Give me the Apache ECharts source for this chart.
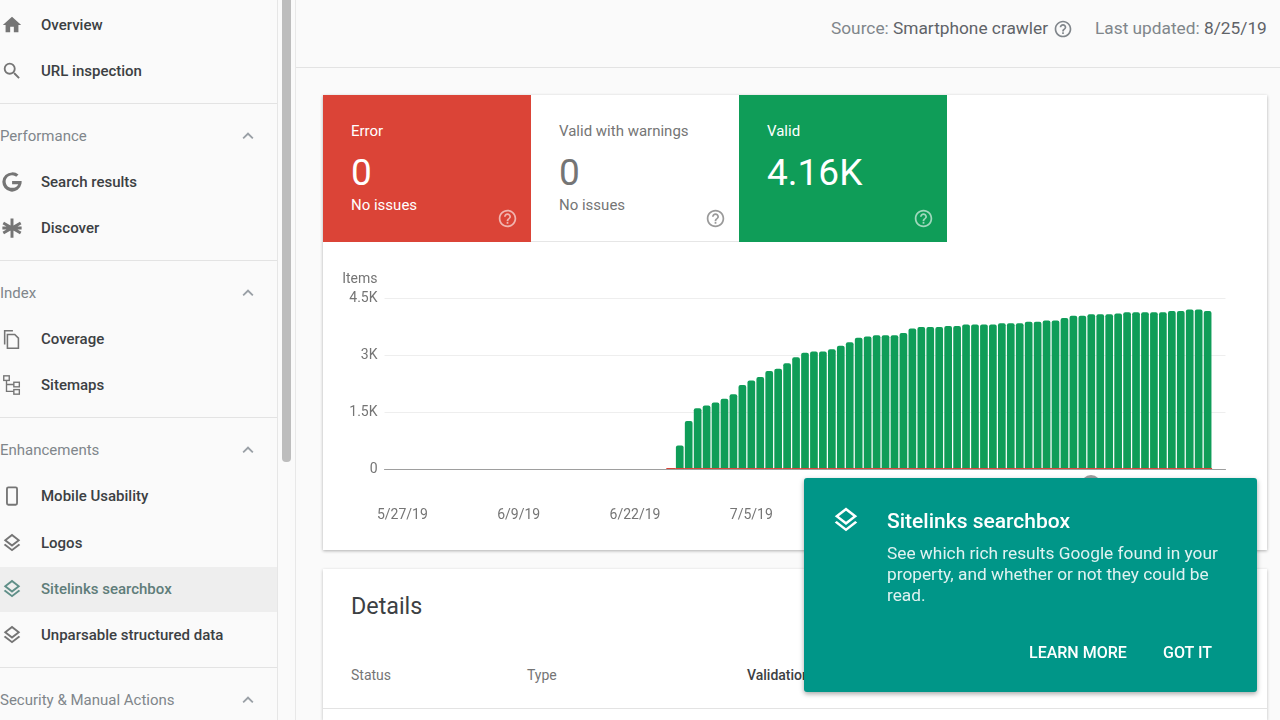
<!DOCTYPE html>
<html>
<head>
<meta charset="utf-8">
<script src="https://cdn.jsdelivr.net/npm/echarts@6/dist/echarts.min.js"></script>
<style>
  html, body { margin: 0; padding: 0; width: 1280px; height: 720px; overflow: hidden; background: #fafafa; font-family: Roboto, sans-serif; }
  .abs, .t { position: absolute; }
  .t { white-space: nowrap; line-height: 1; transform: translateY(-50%); }
  .nav { font-size: 15px; font-weight: 500; color: #3c4043; left: 41px; }
  .head { font-size: 15px; color: #80868b; left: 0; }
  .line { position: absolute; height: 1px; background: #e3e3e3; }
  svg { position: absolute; }
  #main { position: absolute; left: 323px; top: 242px; width: 944px; height: 308px; }
</style>
</head>
<body>
<div class="abs" style="left:277px;top:0;width:1px;height:720px;background:#e6e6e6"></div>
<div class="abs" style="left:282px;top:0;width:9px;height:462px;background:#bdbdbd;border-radius:0 0 4px 4px"></div>
<div class="abs" style="left:295px;top:0;width:1px;height:720px;background:#e8e8e8"></div>
<div class="line" style="left:296px;top:67px;width:984px"></div>
<div class="abs" style="left:0;top:567px;width:277px;height:45px;background:#eeeeee"></div>
<div id="nav"></div>

<div class="t" style="left:831px;top:29px;font-size:17.3px;color:#80868b">Source: <span style="color:#5f6368">Smartphone crawler</span></div>
<div class="t" style="left:1095px;top:29px;font-size:17.3px;color:#80868b">Last updated: <span style="color:#5f6368">8/25/19</span></div>

<div class="abs" style="left:323px;top:95px;width:944px;height:455px;background:#fff;box-shadow:0 1px 3px rgba(0,0,0,.3)"></div>
<div class="abs" style="left:323px;top:569px;width:944px;height:151px;background:#fff;box-shadow:0 1px 3px rgba(0,0,0,.25)"></div>
<div class="abs" style="left:323px;top:95px;width:208px;height:147px;background:#db4437"></div>
<div class="abs" style="left:531px;top:241px;width:208px;height:1px;background:#e6e6e6"></div>
<div class="abs" style="left:739px;top:95px;width:208px;height:147px;background:#0f9d58"></div>
<div id="tiles"></div>

<div id="main"></div>

<div class="t" style="left:351px;top:607px;font-size:23.300px;color:#3c4043">Details</div>
<div class="t" style="left:351px;top:675px;font-size:14px;color:#757575">Status</div>
<div class="t" style="left:527px;top:675px;font-size:14px;color:#757575">Type</div>
<div class="t" style="left:747px;top:675px;font-size:14px;font-weight:500;color:#3c4043">Validation</div>
<div class="line" style="left:323px;top:708px;width:944px"></div>

<div class="abs" style="left:1081px;top:475px;width:20px;height:20px;border-radius:10px;background:#9e9e9e"></div>
<div class="abs" style="left:804px;top:478px;width:453px;height:214px;background:#009688;border-radius:3px;box-shadow:0 2px 5px rgba(0,0,0,.35)"></div>
<svg style="left:831px;top:505px" width="30" height="30" viewBox="0 0 24 24"><path fill="#fff" d="M11.99 18.54l-7.37-5.73L3 14.07l9 7 9-7-1.63-1.27-7.38 5.74zM12 16l7.36-5.73L21 9l-9-7-9 7 1.63 1.27L12 16zm0-11.47L17.74 9 12 13.47 6.26 9 12 4.53z"/></svg>
<div class="t" style="left:887px;top:521px;font-size:21px;font-weight:500;color:#fff">Sitelinks searchbox</div>
<div class="t" style="left:887px;top:554px;font-size:17.300px;color:#e0f2f1">See which rich results Google found in your</div>
<div class="t" style="left:887px;top:575px;font-size:17.300px;color:#e0f2f1">property, and whether or not they could be</div>
<div class="t" style="left:887px;top:596px;font-size:17.300px;color:#e0f2f1">read.</div>
<div class="t" style="left:1029px;top:653px;font-size:16px;font-weight:500;color:#fff">LEARN MORE</div>
<div class="t" style="left:1163px;top:653px;font-size:16px;font-weight:500;color:#fff">GOT IT</div>

<script>
// chart data
var dates = [
  '5/25/19','5/26/19','5/27/19','5/28/19','5/29/19','5/30/19','5/31/19',
  '6/1/19','6/2/19','6/3/19','6/4/19','6/5/19','6/6/19','6/7/19','6/8/19','6/9/19','6/10/19',
  '6/11/19','6/12/19','6/13/19','6/14/19','6/15/19','6/16/19','6/17/19','6/18/19','6/19/19','6/20/19',
  '6/21/19','6/22/19','6/23/19','6/24/19','6/25/19','6/26/19','6/27/19','6/28/19','6/29/19','6/30/19',
  '7/1/19','7/2/19','7/3/19','7/4/19','7/5/19','7/6/19','7/7/19','7/8/19','7/9/19','7/10/19',
  '7/11/19','7/12/19','7/13/19','7/14/19','7/15/19','7/16/19','7/17/19','7/18/19','7/19/19','7/20/19',
  '7/21/19','7/22/19','7/23/19','7/24/19','7/25/19','7/26/19','7/27/19','7/28/19','7/29/19','7/30/19','7/31/19',
  '8/1/19','8/2/19','8/3/19','8/4/19','8/5/19','8/6/19','8/7/19','8/8/19','8/9/19','8/10/19',
  '8/11/19','8/12/19','8/13/19','8/14/19','8/15/19','8/16/19','8/17/19','8/18/19','8/19/19','8/20/19',
  '8/21/19','8/22/19','8/23/19','8/24/19','8/25/19','8/26/19','8/27/19'
];
var validStart = '6/27/19';
var validValues = [
  620,1260,1600,1670,1750,1850,1965,2210,2330,2420,
  2580,2640,2780,2940,3060,3095,3095,3150,3245,3335,
  3455,3490,3520,3520,3520,3580,3700,3735,3735,3735,
  3765,3765,3800,3800,3800,3800,3835,3835,3835,3875,
  3875,3910,3910,3975,4035,4035,4070,4070,4070,4095,
  4125,4125,4125,4125,4125,4160,4160,4195,4195,4160
];
var errorStart = '6/26/19';
var errorValues = [
  0,0,0,0,0,0,0,0,0,0,0,0,0,0,0,0,0,0,0,0,
  0,0,0,0,0,0,0,0,0,0,0,0,0,0,0,0,0,0,0,0,
  0,0,0,0,0,0,0,0,0,0,0,0,0,0,0,0,0,0,0,0,0
];
var yTicks = { 0: '0', 1500: '1.5K', 3000: '3K', 4500: '4.5K' };

// page furniture
var homeIcon = '<path d="M10 20v-6h4v6h5v-8h3L12 3 2 12h3v8z"/>';
var searchIcon = '<path d="M15.5 14h-.79l-.28-.27A6.47 6.47 0 0 0 16 9.5 6.5 6.5 0 1 0 9.5 16c1.61 0 3.09-.59 4.23-1.57l.27.28v.79l5 4.99L20.49 19l-4.99-5zm-6 0C7.01 14 5 11.99 5 9.5S7.01 5 9.5 5 14 7.01 14 9.5 11.99 14 9.5 14z"/>';
var googleIcon = '<path d="M12 1.500a10.500 10.500 0 1 0 10.300 12.500c.2-.9.2-1.800.2-3h-10.400v3.400h6.700c-.8 2.600-3.300 4-6.800 4a6.900 6.900 0 1 1 4.600-12l2.500-2.500A10.400 10.400 0 0 0 12 1.500z"/>';
var starIcon = '<g stroke="#757575" stroke-width="3.200" fill="none"><path d="M12 1.500v21M2.500 6.500l19 11M2.500 17.500l19-11M1.500 12h21" /></g>';
var copyIcon = '<g stroke="#757575" stroke-width="1.700" fill="none"><path d="M14 22H7V7h8l4 4v11z M4 18V3h9"/></g>';
var treeIcon = '<g stroke="#757575" stroke-width="1.500" fill="none"><rect x="3" y="2" width="6" height="5"/><rect x="14" y="9" width="6" height="5"/><rect x="14" y="17" width="6" height="5"/><path d="M6 7v12h8M6 11.500h8"/></g>';
var phoneIcon = '<rect x="6.500" y="2.500" width="11" height="19" rx="1.500" stroke="#757575" stroke-width="2" fill="none"/>';
var layersIcon = '<path d="M11.990 18.540l-7.370-5.730L3 14.070l9 7 9-7-1.630-1.270-7.380 5.740zM12 16l7.360-5.730L21 9l-9-7-9 7 1.630 1.270L12 16zm0-11.470L17.740 9 12 13.470 6.260 9 12 4.530z"/>';
var helpIcon = '<path d="M11 18h2v-2h-2v2zm1-16C6.480 2 2 6.480 2 12s4.480 10 10 10 10-4.480 10-10S17.520 2 12 2zm0 18c-4.410 0-8-3.590-8-8s3.590-8 8-8 8 3.590 8 8-3.590 8-8 8zm0-14c-2.210 0-4 1.790-4 4h2c0-1.100.9-2 2-2s2 .9 2 2c0 2-3 1.750-3 5h2c0-2.250 3-2.500 3-5 0-2.210-1.790-4-4-4z"/>';

var navItems = [
  ['Overview', 25, homeIcon], ['URL inspection', 71, searchIcon],
  ['Search results', 182, googleIcon], ['Discover', 228, starIcon],
  ['Coverage', 339, copyIcon], ['Sitemaps', 385, treeIcon],
  ['Mobile Usability', 496, phoneIcon], ['Logos', 543, layersIcon],
  ['Sitelinks searchbox', 589, layersIcon], ['Unparsable structured data', 635, layersIcon]
];
var navHeads = [['Performance', 136], ['Index', 293], ['Enhancements', 450], ['Security & Manual Actions', 700]];
var navLines = [103, 260, 417, 667];

function icon(x, y, size, color, body) {
  return '<svg style="left:' + (x - size / 2) + 'px;top:' + (y - size / 2) + 'px" width="' + size + '" height="' + size +
    '" viewBox="0 0 24 24" fill="' + color + '">' + body + '</svg>';
}
function text(x, y, size, color, str) {
  return '<div class="t" style="left:' + x + 'px;top:' + y + 'px;font-size:' + size + 'px;color:' + color + '">' + str + '</div>';
}

var html = '';
navItems.forEach(function (n) {
  var picked = n[0] === 'Sitelinks searchbox';
  html += '<div class="t nav" style="top:' + n[1] + 'px' + (picked ? ';color:#5f7d7a' : '') + '">' + n[0] + '</div>';
  html += icon(11.5, n[1], 22, picked ? '#5f8f88' : '#757575', n[2]);
});
navHeads.forEach(function (n) {
  html += '<div class="t head" style="top:' + n[1] + 'px">' + n[0].replace('&', '&amp;') + '</div>';
  html += icon(248, n[1], 22, '#9aa0a6', '<path d="M7.400 15.400L12 10.800l4.600 4.600L18 14l-6-6-6 6z"/>');
});
navLines.forEach(function (y) {
  html += '<div class="line" style="left:0;top:' + y + 'px;width:277px"></div>';
});
html += icon(1063, 29, 20, '#80868b', helpIcon);
document.getElementById('nav').innerHTML = html;

var tiles = [
  ['Error', '0', 'No issues', 351, '#fff', '#fff', 507],
  ['Valid with warnings', '0', 'No issues', 559, '#757575', '#757575', 715],
  ['Valid', '4.16K', '', 767, '#fff', '#fff', 923]
];
var tileHtml = '';
tiles.forEach(function (t) {
  tileHtml += text(t[3], 131, 15, t[4], t[0]);
  tileHtml += text(t[3], 172, 37, t[5], t[1]);
  if (t[2]) tileHtml += text(t[3], 205, 15, t[4], t[2]);
  tileHtml += icon(t[6], 218, 21, t[4] === '#fff' ? 'rgba(255,255,255,.6)' : '#9a9a9a', helpIcon);
});
document.getElementById('tiles').innerHTML = tileHtml;

// 基于准备好的dom，初始化echarts图表
var myChart = echarts.init(document.getElementById('main'));

function padTo(start, values) {
  var out = [];
  var first = dates.indexOf(start);
  for (var i = 0; i < first; i++) out.push(null);
  return out.concat(values);
}

var option = {
  animation: false,
  textStyle: { fontFamily: 'Roboto' },
  grid: { left: 61.5, right: 41.5, top: 56, bottom: 81 },
  xAxis: [
    {
      type: 'category',
      data: dates,
      boundaryGap: false,
      axisLine: { lineStyle: { color: '#9e9e9e', width: 1 } },
      axisTick: { show: false },
      axisLabel: {
        color: '#757575',
        fontSize: 14,
        margin: 39,
        hideOverlap: false,
        interval: function (i) { return i >= 2 && (i - 2) % 13 === 0; }
      }
    },
    { type: 'category', data: dates, boundaryGap: false, show: false }
  ],
  yAxis: {
    type: 'value',
    min: 0,
    max: 4500,
    interval: 1500,
    name: 'Items',
    nameGap: 12,
    nameTextStyle: { color: '#757575', fontSize: 14, align: 'right', padding: [0, 7, 0, 0] },
    axisLine: { show: false },
    axisTick: { show: false },
    axisLabel: {
      color: '#757575',
      fontSize: 14,
      margin: 7,
      padding: [4, 0, 0, 0],
      formatter: function (v) { return yTicks[v]; }
    },
    splitLine: { lineStyle: { color: '#eeeeee', width: 1 } }
  },
  series: [
    {
      name: 'Valid',
      type: 'bar',
      data: padTo(validStart, validValues),
      barWidth: 7.7,
      itemStyle: { color: '#0f9d58', borderRadius: [2, 2, 0, 0] }
    },
    {
      name: 'Error',
      type: 'bar',
      xAxisIndex: 1,
      data: padTo(errorStart, errorValues),
      barWidth: '100%',
      barMinHeight: 1,
      itemStyle: { color: '#db4437' }
    }
  ]
};
myChart.setOption(option);
</script>
</body>
</html>
